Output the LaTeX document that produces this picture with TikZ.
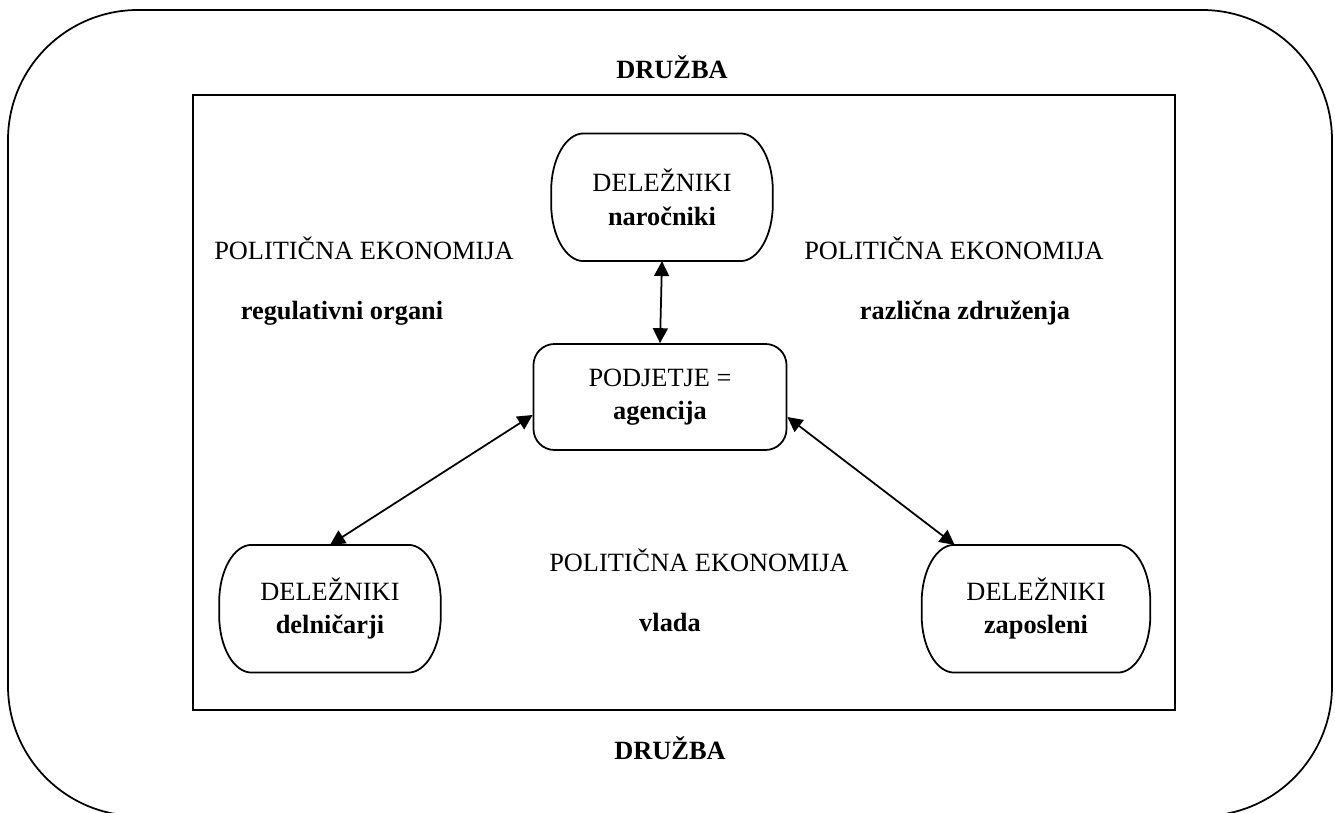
\documentclass[tikz,border=0pt]{standalone}
\usepackage{fontspec}
\setmainfont{Liberation Serif}
\usetikzlibrary{positioning,arrows.meta}

\tikzset{
  lbl/.style={font=\fontsize{15}{19}\selectfont, align=center, inner sep=0pt},
  firmbox/.style={lbl, draw, line width=1pt, rounded corners=0.42cm,
                  minimum width=5.06cm, minimum height=2.12cm},
  stake/.style={lbl, minimum width=4.42cm, minimum height=2.54cm},
  link/.style={line width=1pt, {Triangle[length=8.5pt,width=8.5pt]}-{Triangle[length=8.5pt,width=8.5pt]}}
}

\begin{document}
\begin{tikzpicture}
\useasboundingbox (0,0) rectangle (26.7,-16.26);
% society and the frame
\draw[line width=1pt, rounded corners=2.6cm] (0.16,-0.2) rectangle (26.64,-16.32);
\draw[line width=1pt] (3.86,-1.9) rectangle (23.5,-14.2);
\node[lbl] (soctop) at (13.44,-1.34) {\textbf{DRUŽBA}};
\node[lbl] (socbot) at (13.4,-14.96) {\textbf{DRUŽBA}};

% company and stakeholders
\node[firmbox] (firm) at (13.2,-7.94) {PODJETJE =\\\textbf{agencija}};
\node[stake, above=1.64cm of firm, xshift=0.04cm] (nar) {DELEŽNIKI\\\textbf{naročniki}};
\node[stake, below=1.88cm of firm, xshift=-6.6cm] (del) {DELEŽNIKI\\\textbf{delničarji}};
\node[stake, below=1.88cm of firm, xshift=7.52cm, minimum width=4.56cm] (zap) {DELEŽNIKI\\\textbf{zaposleni}};
\foreach \n in {nar,del,zap}
  \draw[line width=1pt] ([xshift=0.65cm]\n.north west) -- ([xshift=-0.65cm]\n.north east)
    arc[start angle=90, end angle=0, x radius=0.65cm, y radius=1.15cm]
    -- ([yshift=1.15cm]\n.south east)
    arc[start angle=0, end angle=-90, x radius=0.65cm, y radius=1.15cm]
    -- ([xshift=0.65cm]\n.south west)
    arc[start angle=270, end angle=180, x radius=0.65cm, y radius=1.15cm]
    -- ([yshift=-1.15cm]\n.north west)
    arc[start angle=180, end angle=90, x radius=0.65cm, y radius=1.15cm] -- cycle;

% political economy
\node[lbl] (pel) at (7.28,-4.96) {POLITIČNA EKONOMIJA};
\node[lbl] (regul) at (6.84,-6.26) {\textbf{regulativni organi}};
\node[lbl] (per) at (19.08,-4.96) {POLITIČNA EKONOMIJA};
\node[lbl] (assoc) at (19.3,-6.26) {\textbf{različna združenja}};
\node[lbl] (peb) at (13.98,-11.2) {POLITIČNA EKONOMIJA};
\node[lbl] (gov) at (13.4,-12.44) {\textbf{vlada}};

% links
\draw[link] (nar.south) -- (firm.north);
\draw[link] ([yshift=-0.36cm]firm.west) -- (del.north);
\draw[link] ([yshift=-0.4cm]firm.east) -- ([xshift=0.66cm]zap.north west);
\end{tikzpicture}
\end{document}
